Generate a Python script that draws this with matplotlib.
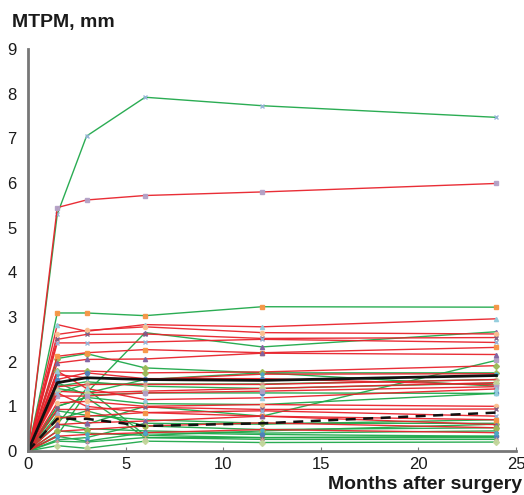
import matplotlib
matplotlib.use("Agg")
import matplotlib.pyplot as plt

plt.rcParams["font.family"] = ["Liberation Sans", "DejaVu Sans"]

MONTHS = [0, 1.5, 3, 6, 12, 24]

RED_SERIES = [
    [0, 5.45, 5.62, 5.72, 5.80, 5.99],
    [0, 2.83, 2.68, 2.83, 2.78, 2.96],
    [0, 2.61, 2.70, 2.78, 2.65, 2.62],
    [0, 2.50, 2.61, 2.62, 2.52, 2.54],
    [0, 2.42, 2.42, 2.44, 2.50, 2.43],
    [0, 2.12, 2.20, 2.27, 2.20, 2.32],
    [0, 1.97, 2.05, 2.06, 2.19, 2.16],
    [0, 1.79, 1.79, 1.75, 1.77, 1.91],
    [0, 1.71, 1.64, 1.60, 1.72, 1.73],
    [0, 1.60, 1.75, 1.62, 1.62, 1.48],
    [0, 1.44, 1.49, 1.49, 1.49, 1.60],
    [0, 1.34, 1.30, 1.34, 1.40, 1.53],
    [0, 1.23, 1.23, 1.30, 1.34, 1.44],
    [0, 1.79, 1.40, 1.15, 1.19, 1.39],
    [0, 1.08, 1.11, 1.00, 1.04, 1.00],
    [0, 0.93, 0.93, 0.98, 0.93, 0.94],
    [0, 1.30, 1.00, 0.86, 0.90, 0.78],
    [0, 0.74, 0.78, 0.86, 0.78, 0.70],
    [0, 0.59, 0.63, 0.67, 0.78, 0.59],
    [0, 0.44, 0.48, 0.56, 0.63, 0.52],
    [0, 0.33, 0.37, 0.41, 0.48, 0.41],
]

GREEN_SERIES = [
    [0, 5.30, 7.05, 7.92, 7.73, 7.47],
    [0, 3.09, 3.09, 3.03, 3.23, 3.22],
    [0, 0.35, 1.30, 2.65, 2.33, 2.67],
    [0, 2.07, 2.18, 1.86, 1.75, 1.75],
    [0, 1.40, 1.30, 1.60, 1.75, 1.45],
    [0, 1.53, 1.25, 1.30, 1.30, 1.29],
    [0, 1.45, 1.55, 1.45, 1.40, 1.52],
    [0, 1.30, 1.50, 1.50, 1.50, 1.60],
    [0, 0.80, 0.60, 1.00, 0.78, 2.03],
    [0, 1.00, 1.20, 1.06, 1.04, 1.29],
    [0, 0.60, 1.40, 0.35, 0.30, 0.33],
    [0, 1.00, 1.20, 0.30, 0.30, 0.30],
    [0, 0.90, 0.80, 0.70, 0.62, 0.62],
    [0, 0.70, 0.90, 0.56, 0.48, 0.52],
    [0, 0.60, 0.50, 0.45, 0.40, 0.45],
    [0, 0.45, 0.40, 0.35, 0.45, 0.60],
    [0, 0.25, 0.30, 0.62, 0.60, 0.70],
    [0, 0.33, 0.22, 0.41, 0.37, 0.33],
    [0, 0.22, 0.20, 0.30, 0.26, 0.26],
    [0, 0.12, 0.06, 0.22, 0.19, 0.20],
]

MEAN_SOLID = [0, 1.53, 1.64, 1.60, 1.58, 1.69]
MEAN_DASHED = [0, 0.72, 0.72, 0.56, 0.62, 0.86]

MARKER_COLORS = [
    "#95B3D7", "#F79646", "#8064A2", "#9BBB59", "#4BACC6", "#4F81BD",
    "#D99694", "#C3D69B", "#B3A2C7", "#93CDDD", "#FAC090", "#7F6084",
]
MARKERS = ["x", "s", "^", "D", "*", "o", "+", "D", "s", "^", "o", "x"]

RED = "#e8222b"
GREEN = "#1fa84a"

fig = plt.figure(figsize=(5.24, 4.95), dpi=100)
ax = fig.add_axes([0.0534, 0.0889, 0.9313, 0.8121])

k = 0
for series_list, color in [(GREEN_SERIES, GREEN), (RED_SERIES, RED)]:
    for values in series_list:
        mc = MARKER_COLORS[k % len(MARKER_COLORS)]
        mk = MARKERS[k % len(MARKERS)]
        ax.plot(MONTHS, values, color=color, lw=1.0, marker=mk, ms=3.0,
                mfc=mc, mec=mc, mew=1.0, alpha=0.95)
        k += 1

ax.plot(MONTHS, MEAN_SOLID, color="#111111", lw=2.0)
ax.plot(MONTHS, MEAN_DASHED, color="#111111", lw=1.8, ls=(0, (4, 3)))

ax.set_xlim(0, 25)
ax.set_ylim(0, 9)
ax.set_xticks([0, 5, 10, 15, 20, 25])
ax.set_yticks(range(10))
for side in ["top", "right"]:
    ax.spines[side].set_visible(False)
for side in ["left", "bottom"]:
    ax.spines[side].set_color("#777777")
    ax.spines[side].set_linewidth(2.0)
ax.tick_params(axis="x", direction="in", length=3, color="#777777",
               labelsize=12, pad=4, labelcolor="#1a1a1a")
ax.tick_params(axis="y", length=0, labelsize=12, pad=8, labelcolor="#1a1a1a")

fig.text(0.023, 0.945, "MTPM, mm", fontsize=14, fontweight="bold", color="#1a1a1a")
fig.text(0.997, 0.005, "Months after surgery", fontsize=14, fontweight="bold",
         color="#1a1a1a", ha="right", va="bottom")

fig.savefig("out.png", dpi=100)
